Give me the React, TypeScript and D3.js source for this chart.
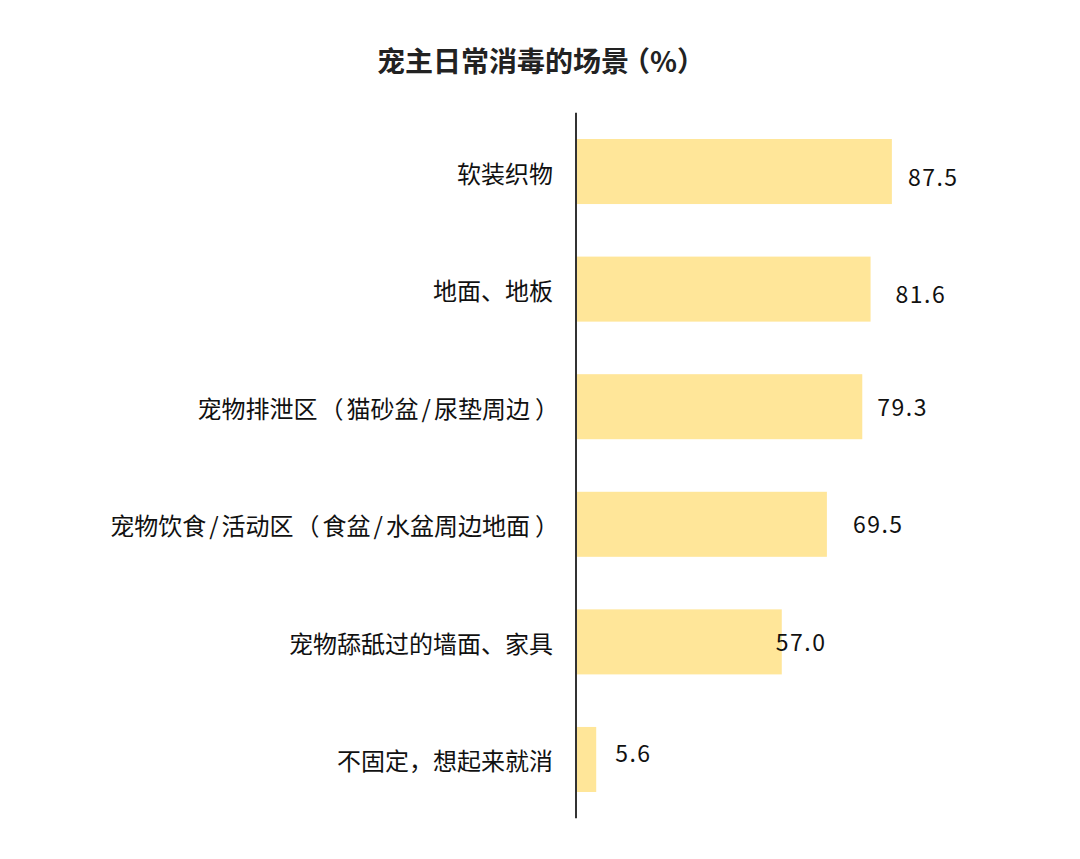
import React from "react";
import { scaleLinear, scaleBand, select } from "d3";

const categories = [
  "软装织物",
  "地面、地板",
  "宠物排泄区（猫砂盆/尿垫周边）",
  "宠物饮食/活动区（食盆/水盆周边地面）",
  "宠物舔舐过的墙面、家具",
  "不固定，想起来就消",
];
const values = [87.5, 81.6, 79.3, 69.5, 57.0, 5.6];
// small nudges of the value labels, as in the original
const labelDx = [16, 25, 15, 26, -6, 19];
const labelDy = [4, 4, -1, -1, -1, -7];

const title = "宠主日常消毒的场景（%）";

const W = 1080;
const H = 859;
const FONT = "'Noto Sans CJK SC', 'Noto Sans', sans-serif";

// the source font spaces brackets and slashes differently from Noto
type Pad = { open: number; afterOpen: number; close: number; slash: number; afterSlash: number };
const PUNCT = /([（）\/])/;
function fillCjk(sel: any, str: string, pad: Pad) {
  const parts = str.split(PUNCT).filter((s) => s.length);
  let prev = "";
  parts.forEach((part) => {
    const t = sel.append("tspan").text(part);
    let dx = 0;
    if (part === "（") dx += pad.open;
    if (part === "）") dx += pad.close;
    if (part === "/") dx += pad.slash;
    if (prev === "（") dx += pad.afterOpen;
    if (prev === "/") dx += pad.afterSlash;
    if (dx) t.attr("dx", dx);
    prev = part;
  });
}

export default function App() {
  const svgRef = React.useRef<SVGSVGElement>(null);

  React.useEffect(() => {
    document.body.style.margin = "0";
    const svg = select(svgRef.current);
    svg.selectAll("*").remove();

    const x = scaleLinear().domain([0, 100]).range([576, 937]);
    const y = scaleBand<string>()
      .domain(categories)
      .range([112.7, 818.3])
      .paddingInner(0.447)
      .paddingOuter(0.2237);

    const t = svg
      .append("text")
      .attr("x", 377)
      .attr("y", 60)
      .attr("dominant-baseline", "central")
      .attr("font-family", FONT)
      .attr("font-weight", "bold")
      .attr("font-size", 28)
      .attr("fill", "#222");
    fillCjk(t, title, { open: -7, afterOpen: 0, close: 0, slash: 0, afterSlash: 0 });

    svg
      .append("g")
      .selectAll("rect")
      .data(values)
      .join("rect")
      .attr("x", x(0))
      .attr("y", (_, i) => y(categories[i])!)
      .attr("width", (d) => x(d) - x(0))
      .attr("height", y.bandwidth())
      .attr("fill", "#FFE699");

    svg
      .append("g")
      .selectAll("text")
      .data(categories)
      .join("text")
      .attr("x", (d) => x(0) - 23 + (d.endsWith("）") ? 6 : 0))
      .attr("y", (d) => y(d)! + y.bandwidth() / 2)
      .attr("text-anchor", "end")
      .attr("dominant-baseline", "central")
      .attr("font-family", FONT)
      .attr("font-size", 24)
      .attr("fill", "#111")
      .each(function (d) {
        fillCjk(select(this), d, { open: 2, afterOpen: 3, close: 5, slash: 3, afterSlash: 3 });
      });

    svg
      .append("g")
      .selectAll("text")
      .data(values)
      .join("text")
      .attr("x", (d, i) => x(d) + labelDx[i])
      .attr("y", (_, i) => y(categories[i])! + y.bandwidth() / 2 + labelDy[i])
      .attr("dominant-baseline", "central")
      .attr("font-family", FONT)
      .attr("font-size", 23)
      .attr("letter-spacing", 1.5)
      .attr("fill", "#111")
      .text((d) => d.toFixed(1));

    svg
      .append("line")
      .attr("x1", x(0))
      .attr("x2", x(0))
      .attr("y1", y.range()[0])
      .attr("y2", y.range()[1])
      .attr("stroke", "#333")
      .attr("stroke-width", 2);
  }, []);

  return (
    <svg
      ref={svgRef}
      width={W}
      height={H}
      style={{ display: "block", background: "#fff" }}
    />
  );
}
